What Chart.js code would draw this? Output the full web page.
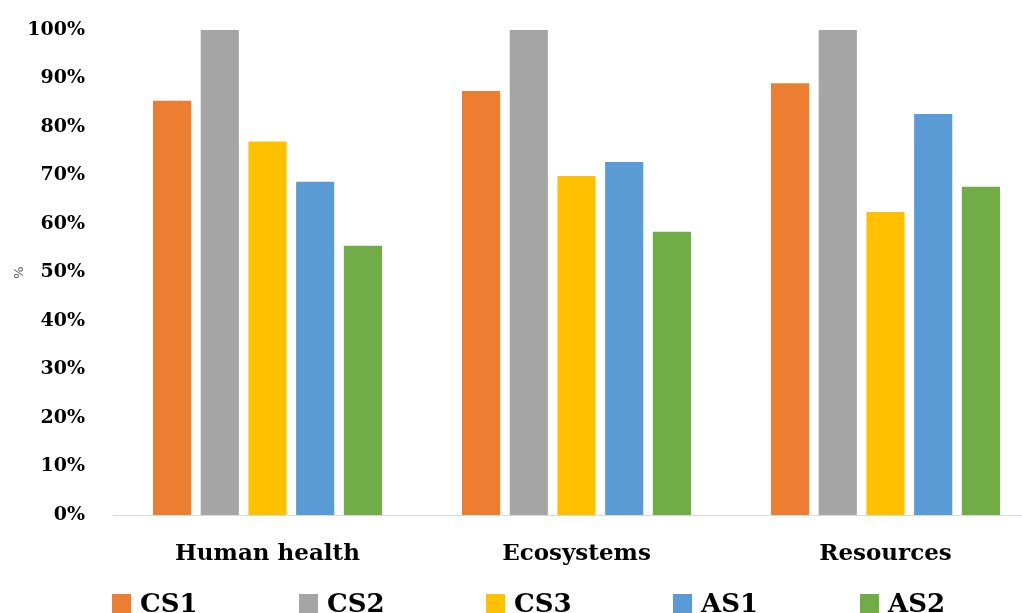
<!DOCTYPE html>
<html>
<head>
<meta charset="utf-8">
<script src="https://cdn.jsdelivr.net/npm/chart.js@4/dist/chart.umd.min.js"></script>
<style>
  html, body { margin: 0; padding: 0; background: #fff; overflow: hidden; width: 1022px; height: 613px; }
  #wrap { position: relative; width: 1050px; height: 613px; }
  #legend { position: absolute; left: 0; top: 0; width: 1050px; height: 613px; pointer-events: none; }
  .item { position: absolute; top: 590px; height: 30px; font-family: "DejaVu Serif", serif; font-weight: bold; font-size: 26px; line-height: 26px; color: #000; white-space: nowrap; }
  .swatch { position: absolute; left: 0; top: 4px; width: 19px; height: 19px; }
  .label { position: absolute; left: 28px; top: 0; }
</style>
</head>
<body>
<div id="wrap">
  <canvas id="c"></canvas>
  <div id="legend"></div>
</div>
<script>
// Impact categories and the share of each scenario, in percent
const categories = ["Human health", "Ecosystems", "Resources"];
const seriesNames = ["CS1", "CS2", "CS3", "AS1", "AS2"];
const cs1 = [85.4, 87.4, 89.0];
const cs2 = [100, 100, 100];
const cs3 = [77.0, 69.9, 62.5];
const as1 = [68.7, 72.8, 82.7];
const as2 = [55.5, 58.4, 67.7];
const yTicks = [0, 10, 20, 30, 40, 50, 60, 70, 80, 90, 100];

const colors = ["#ED7D31", "#A5A5A5", "#FFC000", "#5B9BD5", "#70AD47"];
const values = [cs1, cs2, cs3, as1, as2];

const datasets = seriesNames.map((name, i) => ({
  label: name,
  data: values[i],
  backgroundColor: colors[i],
  borderWidth: 0,
  categoryPercentage: 0.772,
  barPercentage: 0.8
}));

const chart = new Chart(document.getElementById("c"), {
  type: "bar",
  data: { labels: categories, datasets },
  options: {
    responsive: true,
    maintainAspectRatio: false,
    animation: false,
    layout: { padding: { top: 30, right: 10, left: 0, bottom: 0 } },
    plugins: { legend: { display: false }, tooltip: { enabled: false } },
    scales: {
      x: {
        grid: { display: false },
        border: { display: true, color: "#D9D9D9", width: 1 },
        ticks: {
          color: "#000",
          padding: 17,
          font: { family: "DejaVu Serif", weight: "bold", size: 23 }
        },
        afterFit: s => { s.height = 98; }
      },
      y: {
        min: 0,
        max: 100,
        afterBuildTicks: s => { s.ticks = yTicks.map(v => ({ value: v })); },
        grid: { display: false, drawTicks: false },
        border: { display: false },
        ticks: {
          color: "#000",
          padding: 28,
          font: { family: "DejaVu Serif", weight: "bold", size: 19 },
          callback: v => v + "%"
        },
        title: {
          display: true,
          text: "%",
          color: "#595959",
          padding: { top: 12, bottom: 0 },
          font: { family: "DejaVu Sans", size: 13 }
        },
        afterFit: s => { s.width = 113; s.paddingTop = 12; s.paddingBottom = 12; }
      }
    }
  }
});

// Legend row built from the chart's datasets
const legend = document.getElementById("legend");
chart.data.datasets.forEach((ds, i) => {
  const item = document.createElement("div");
  item.className = "item";
  item.style.left = (112 + i * 187) + "px";
  const sw = document.createElement("div");
  sw.className = "swatch";
  sw.style.background = ds.backgroundColor;
  const lb = document.createElement("div");
  lb.className = "label";
  lb.textContent = ds.label;
  item.appendChild(sw);
  item.appendChild(lb);
  legend.appendChild(item);
});
</script>
</body>
</html>
